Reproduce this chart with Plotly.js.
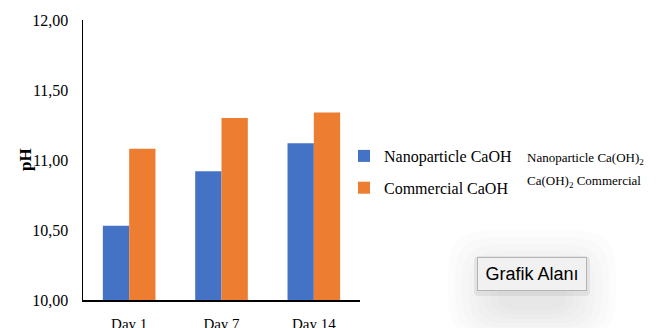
<!DOCTYPE html>
<html>
<head>
<meta charset="utf-8">
<script src="https://cdn.plot.ly/plotly-3.0.1.min.js"></script>
<style>
  html, body { margin: 0; padding: 0; background: #fff; }
  #chart { width: 668px; height: 328px; }
</style>
</head>
<body>
<div id="chart"></div>
<script>
// pH measured over time for the two calcium hydroxide preparations
const days = ['Day 1', 'Day 7', 'Day 14'];
const nanoPH = [10.53, 10.92, 11.12];
const commercialPH = [11.08, 11.30, 11.34];
const yTicks = [10, 10.5, 11, 11.5, 12];

const serif = '"Liberation Serif"';

// plot area geometry in pixels (used to place decorations in paper units)
const M = { l: 83, r: 308, t: 20, b: 28 };
const W = 668, H = 328;
const pw = W - M.l - M.r, ph = H - M.t - M.b;
const px = x => (x - M.l) / pw;
const py = y => (H - M.b - y) / ph;

// rounded rectangle path in pixel space, converted to paper coordinates
function roundRect(x0, y0, x1, y1, r) {
  const X = v => px(v), Y = v => py(v);
  return 'M' + X(x0 + r) + ',' + Y(y0) +
    ' L' + X(x1 - r) + ',' + Y(y0) +
    ' Q' + X(x1) + ',' + Y(y0) + ' ' + X(x1) + ',' + Y(y0 + r) +
    ' L' + X(x1) + ',' + Y(y1 - r) +
    ' Q' + X(x1) + ',' + Y(y1) + ' ' + X(x1 - r) + ',' + Y(y1) +
    ' L' + X(x0 + r) + ',' + Y(y1) +
    ' Q' + X(x0) + ',' + Y(y1) + ' ' + X(x0) + ',' + Y(y1 - r) +
    ' L' + X(x0) + ',' + Y(y0 + r) +
    ' Q' + X(x0) + ',' + Y(y0) + ' ' + X(x0 + r) + ',' + Y(y0) + ' Z';
}

// soft halo behind the "Grafik Alanı" popup
const halo = [];
for (let i = 0; i < 8; i++) {
  const inset = i * 7;
  halo.push({
    type: 'path', xref: 'paper', yref: 'paper', layer: 'below',
    path: roundRect(448 + inset, 230 + inset, 616 - inset, 340 - inset * 0.6, 40 - i * 3),
    fillcolor: 'rgba(0,0,0,0.010)', line: { width: 0 }
  });
}
halo.push({
  type: 'path', xref: 'paper', yref: 'paper', layer: 'below',
  path: roundRect(474, 256, 590, 296, 4),
  fillcolor: 'rgba(0,0,0,0.06)', line: { width: 0 }
});

const data = [
  {
    type: 'bar', name: 'Nanoparticle CaOH', x: days, y: nanoPH,
    marker: { color: '#4472c4' }, legendgroup: 'a'
  },
  {
    type: 'bar', name: 'Commercial CaOH', x: days, y: commercialPH,
    marker: { color: '#ed7d31' }, legendgroup: 'b'
  }
];

const layout = {
  width: W, height: H,
  margin: M,
  paper_bgcolor: '#fff', plot_bgcolor: '#fff',
  separators: ',.',
  barmode: 'group', bargap: 0.43, bargroupgap: 0,
  font: { family: serif, size: 16, color: '#000' },
  xaxis: {
    type: 'category', showgrid: false, zeroline: false,
    showline: true, linecolor: '#000', linewidth: 1.5,
    ticks: '', ticklabelstandoff: 9,
    tickfont: { family: serif, size: 15, color: '#000' }
  },
  yaxis: {
    range: [10, 12], tickvals: yTicks, tickformat: '.2f',
    showgrid: false, zeroline: false,
    showline: true, linecolor: '#000', linewidth: 1.5,
    ticks: '', ticklabelstandoff: 10,
    tickfont: { family: serif, size: 16, color: '#000' }
  },
  showlegend: true,
  legend: {
    x: px(344), xanchor: 'left', y: py(139), yanchor: 'top',
    font: { family: serif, size: 16, color: '#000' },
    tracegroupgap: 8, bgcolor: 'rgba(0,0,0,0)', itemwidth: 30
  },
  shapes: halo,
  annotations: [
    {
      xref: 'paper', yref: 'paper', x: px(25), y: py(160), xanchor: 'center', yanchor: 'middle',
      text: '<b>pH</b>', textangle: -90, showarrow: false,
      font: { family: serif, size: 17, color: '#000' }
    },
    {
      xref: 'paper', yref: 'paper', x: px(525), y: py(158), xanchor: 'left', yanchor: 'middle',
      text: 'Nanoparticle Ca(OH)<sub>2</sub>', showarrow: false,
      font: { family: serif, size: 13, color: '#000' }
    },
    {
      xref: 'paper', yref: 'paper', x: px(525), y: py(182), xanchor: 'left', yanchor: 'middle',
      text: 'Ca(OH)<sub>2</sub> Commercial', showarrow: false,
      font: { family: serif, size: 13, color: '#000' }
    },
    {
      xref: 'paper', yref: 'paper', x: px(532), y: py(274), xanchor: 'center', yanchor: 'middle',
      text: 'Grafik Alanı', showarrow: false,
      width: 106, height: 30, borderpad: 1, borderwidth: 1,
      bordercolor: '#b4b4b4', bgcolor: '#f1f1f1',
      font: { family: '"Liberation Sans"', size: 18, color: '#000' }
    }
  ]
};

Plotly.newPlot('chart', data, layout, { displayModeBar: false, staticPlot: true });
</script>
</body>
</html>
